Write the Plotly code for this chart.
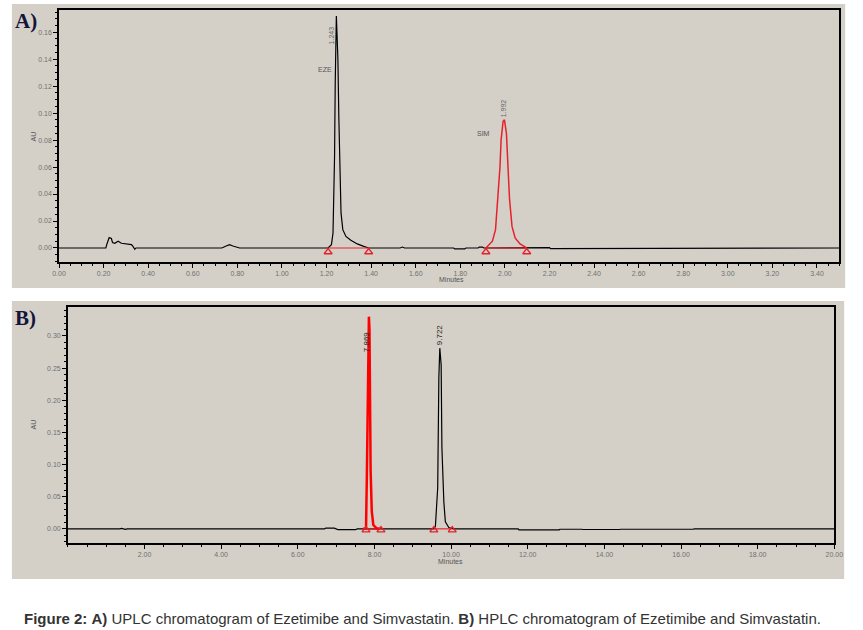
import plotly.graph_objects as go

W, H = 863, 630
BEIGE = "#d4d0c8"

# ---------------- Panel A (UPLC) ----------------
a_time = [0.00, 0.21, 0.215, 0.225, 0.235, 0.24, 0.25, 0.265, 0.28, 0.30, 0.31, 0.325, 0.33, 0.335, 0.34, 0.345,
          0.44, 0.45, 0.47, 0.48, 0.51, 0.52, 0.53, 0.73, 0.75, 0.765, 0.78, 0.80, 0.81,
          1.207, 1.222, 1.229, 1.233, 1.236, 1.239, 1.244, 1.248, 1.251, 1.255, 1.260, 1.265, 1.273, 1.287,
          1.309, 1.338, 1.367, 1.389, 1.53, 1.54, 1.55, 1.70, 1.71, 1.72, 1.77, 1.775, 1.82, 1.825, 1.88,
          1.885, 1.90, 1.905, 1.915,
          2.098, 2.20, 2.205, 2.80, 2.805, 3.50]
a_au = [0.000, 0.000, 0.003, 0.0077, 0.007, 0.004, 0.0035, 0.005, 0.0035, 0.003, 0.0025, 0.0025, 0.0015, 0.0005, -0.001, 0.000,
        0.000, 0.0005, 0.0004, 0.000, 0.000, 0.0005, 0.000, 0.000, 0.0015, 0.0025, 0.0015, 0.0005, 0.000,
        0.000, 0.0025, 0.011, 0.036, 0.068, 0.122, 0.172, 0.154, 0.140, 0.098, 0.060, 0.026, 0.0136, 0.0086,
        0.0057, 0.003, 0.0012, 0.000, 0.000, 0.0007, 0.000, 0.000, -0.0005, 0.000, 0.000, -0.0007, -0.0007, 0.000, 0.000,
        0.0007, 0.0007, 0.000, 0.000,
        0.0003, 0.0003, -0.0005, -0.0005, 0.000, 0.000]

a_red_time = [1.915, 1.944, 1.958, 1.969, 1.978, 1.983, 1.992, 1.998, 2.007, 2.014, 2.021, 2.032, 2.046, 2.068, 2.098]
a_red_au = [0.000, 0.005, 0.0136, 0.036, 0.060, 0.080, 0.094, 0.095, 0.085, 0.060, 0.036, 0.016, 0.0074, 0.003, 0.000]

a_marks_time = [1.207, 1.389, 1.915, 2.098]
a_x_ticks = [0.00, 0.20, 0.40, 0.60, 0.80, 1.00, 1.20, 1.40, 1.60, 1.80, 2.00, 2.20, 2.40, 2.60, 2.80, 3.00, 3.20, 3.40]
a_y_ticks = [0.00, 0.02, 0.04, 0.06, 0.08, 0.10, 0.12, 0.14, 0.16]
a_peak_rt = ["1.243", "1.992"]
a_peak_name = ["EZE", "SIM"]
a_peak_x = [1.244, 1.998]
a_peak_y = [0.172, 0.095]

# ---------------- Panel B (HPLC) ----------------
b_time = [0.0, 1.25, 1.30, 1.35, 1.40, 1.45, 1.50, 1.55, 1.60, 1.90, 1.95, 2.00, 6.70, 6.73, 6.95, 7.00, 7.05, 7.50, 7.55,
          7.78,
          8.14, 9.00, 9.04, 9.42, 9.45, 9.55, 9.59, 9.65, 9.68, 9.705, 9.74, 9.76, 9.81, 9.85, 9.94, 10.06,
          11.75, 11.77, 12.82, 12.84, 13.41, 13.43, 14.40, 14.42, 16.32, 16.34, 20.0]
b_au = [0.000, 0.000, -0.0008, 0.000, 0.0007, 0.000, -0.0008, 0.000, 0.000, 0.000, 0.0006, 0.000, 0.000, 0.0012, 0.0012, 0.000, -0.0013, -0.0013, 0.000,
        0.000,
        0.000, 0.000, -0.0008, -0.0008, 0.000, 0.000, 0.004, 0.064, 0.235, 0.281, 0.255, 0.126, 0.042, 0.011, 0.002, 0.000,
        0.000, -0.0015, -0.0015, -0.0006, -0.0006, -0.0010, -0.0010, -0.0006, -0.0006, 0.000, 0.000]

b_red_time = [7.70, 7.78, 7.80, 7.83, 7.855, 7.87, 7.885, 7.90, 7.93, 7.97, 8.05, 8.14]
b_red_au = [0.000, 0.001, 0.076, 0.250, 0.330, 0.310, 0.140, 0.090, 0.027, 0.006, 0.001, 0.000]

b_marks_time = [7.78, 8.17, 9.55, 10.03]
b_x_ticks = [2.00, 4.00, 6.00, 8.00, 10.00, 12.00, 14.00, 16.00, 18.00, 20.00]
b_y_ticks = [0.00, 0.05, 0.10, 0.15, 0.20, 0.25, 0.30]
b_peak_rt = ["7.869", "9.722"]
b_peak_x = [7.80, 9.69]

caption = ("<b>Figure 2:</b> <b>A)</b> UPLC chromatogram of Ezetimibe and Simvastatin. "
           "<b>B)</b> HPLC chromatogram of Ezetimibe and Simvastatin.")

# ---------------- geometry (pixels) ----------------
def px(xp):
    return xp / W

def py(yp):
    return 1 - yp / H

A_dom_x = [px(53), px(848)]
A_dom_y = [py(262), py(10)]
B_dom_x = [px(62), px(843)]
B_dom_y = [py(543), py(307)]

RED = "#e8202a"
fig = go.Figure()

# Panel A traces
fig.add_trace(go.Scatter(x=a_time, y=a_au, mode="lines", line=dict(color="black", width=1.2),
                         xaxis="x", yaxis="y", showlegend=False, hoverinfo="skip"))
fig.add_trace(go.Scatter(x=[a_marks_time[0], a_marks_time[1]], y=[0, 0], mode="lines",
                         line=dict(color=RED, width=1.2), xaxis="x", yaxis="y", showlegend=False))
fig.add_trace(go.Scatter(x=[a_marks_time[2], a_marks_time[3]], y=[0, 0], mode="lines",
                         line=dict(color=RED, width=1.2), xaxis="x", yaxis="y", showlegend=False))
fig.add_trace(go.Scatter(x=a_red_time, y=a_red_au, mode="lines", line=dict(color=RED, width=1.5),
                         xaxis="x", yaxis="y", showlegend=False))
fig.add_trace(go.Scatter(x=a_marks_time, y=[-0.003] * len(a_marks_time), mode="markers",
                         marker=dict(symbol="triangle-up-open", size=7, color=RED, line=dict(width=1.3)),
                         xaxis="x", yaxis="y", showlegend=False))

# Panel B traces
fig.add_trace(go.Scatter(x=b_time, y=b_au, mode="lines", line=dict(color="black", width=1.2),
                         xaxis="x2", yaxis="y2", showlegend=False))
fig.add_trace(go.Scatter(x=[b_marks_time[0], b_marks_time[1]], y=[0, 0], mode="lines",
                         line=dict(color=RED, width=1.2), xaxis="x2", yaxis="y2", showlegend=False))
fig.add_trace(go.Scatter(x=[b_marks_time[2], b_marks_time[3]], y=[0, 0], mode="lines",
                         line=dict(color=RED, width=1.2), xaxis="x2", yaxis="y2", showlegend=False))
fig.add_trace(go.Scatter(x=b_red_time, y=b_red_au, mode="lines", line=dict(color="#ff0000", width=2.5),
                         xaxis="x2", yaxis="y2", showlegend=False))
fig.add_trace(go.Scatter(x=b_marks_time, y=[-0.002] * len(b_marks_time), mode="markers",
                         marker=dict(symbol="triangle-up-open", size=7, color=RED, line=dict(width=1.3)),
                         xaxis="x2", yaxis="y2", showlegend=False))

tickfont = dict(family="Liberation Sans, Arial, sans-serif", size=7, color="#707070")
common_axis = dict(showline=True, linecolor="black", linewidth=1.5, mirror=True, showgrid=False,
                   zeroline=False, ticks="outside", ticklen=4, tickcolor="black", tickfont=tickfont)

fig.update_layout(
    width=W, height=H, paper_bgcolor="white", plot_bgcolor=BEIGE,
    margin=dict(l=0, r=0, t=0, b=0),
    xaxis=dict(domain=A_dom_x, anchor="y", range=[0, 3.50], tickvals=a_x_ticks,
               ticktext=[f"{v:.2f}" for v in a_x_ticks],
               minor=dict(ticks="outside", ticklen=2, dtick=0.05, tickcolor="black"), **common_axis),
    yaxis=dict(domain=A_dom_y, anchor="x", range=[-0.0104, 0.1765], tickvals=a_y_ticks,
               ticktext=[f"{v:.2f}" for v in a_y_ticks],
               minor=dict(ticks="outside", ticklen=2, dtick=0.005, tickcolor="black"), **common_axis),
    xaxis2=dict(domain=B_dom_x, anchor="y2", range=[0, 20], tickvals=b_x_ticks,
                ticktext=[f"{v:.2f}" for v in b_x_ticks],
                minor=dict(ticks="outside", ticklen=2, dtick=0.5, tickcolor="black"), **common_axis),
    yaxis2=dict(domain=B_dom_y, anchor="x2", range=[-0.022, 0.345], tickvals=b_y_ticks,
                ticktext=[f"{v:.2f}" for v in b_y_ticks],
                minor=dict(ticks="outside", ticklen=2, dtick=0.01, tickcolor="black"), **common_axis),
)

# panel background boxes
shapes = [
    dict(type="rect", xref="paper", yref="paper", x0=px(5), x1=px(854), y0=py(288), y1=py(4),
         fillcolor=BEIGE, line=dict(width=0), layer="below"),
    dict(type="rect", xref="paper", yref="paper", x0=px(5), x1=px(853), y0=py(579), y1=py(301),
         fillcolor=BEIGE, line=dict(width=0), layer="below"),
]
fig.update_layout(shapes=shapes)

ann = []
lblfont = dict(family="Liberation Sans, Arial, sans-serif", size=7, color="#555555")
# panel letters
for letter, yy in (("A)", 21), ("B)", 318)):
    ann.append(dict(text=f"<b>{letter}</b>", x=px(6), y=py(yy), xref="paper", yref="paper",
                    xanchor="left", yanchor="middle", showarrow=False,
                    font=dict(family="Liberation Serif, Times New Roman, serif", size=21, color="#14143a")))
# axis titles
for txt, xx, yy, ang in (("AU", 27, 136, -90), ("AU", 27, 424, -90),
                         ("Minutes", 453, 279, 0), ("Minutes", 452, 561, 0)):
    ann.append(dict(text=txt, x=px(xx), y=py(yy), xref="paper", yref="paper", textangle=ang,
                    xanchor="center", yanchor="middle", showarrow=False, font=lblfont))
# peak labels A
for rt, name, xv, yv, nx, ny, xs, ys in zip(a_peak_rt, a_peak_name, a_peak_x, a_peak_y,
                                            [1.195, 1.905], [0.132, 0.085], [-5, -1], [-30, 1]):
    ann.append(dict(text=rt, x=xv, y=yv, xref="x", yref="y", textangle=-90, xanchor="center",
                    yanchor="bottom", xshift=xs, yshift=ys, showarrow=False,
                    font=dict(family="Liberation Sans, Arial, sans-serif", size=7, color="#666666")))
    ann.append(dict(text=name, x=nx, y=ny, xref="x", yref="y", showarrow=False,
                    font=dict(family="Liberation Sans, Arial, sans-serif", size=7, color="#555555")))
# peak labels B
for rt, xv, yv in zip(b_peak_rt, b_peak_x, [0.272, 0.282]):
    ann.append(dict(text=rt, x=xv, y=yv, xref="x2", yref="y2", textangle=-90, xanchor="center",
                    yanchor="bottom", showarrow=False,
                    font=dict(family="Liberation Sans, Arial, sans-serif", size=8, color="#222222")))
# caption
ann.append(dict(text=caption, x=px(423), y=py(618), xref="paper", yref="paper", showarrow=False,
                xanchor="center", yanchor="middle",
                font=dict(family="Liberation Sans Narrow, Arial Narrow, sans-serif", size=15, color="#333333")))
fig.update_layout(annotations=ann)

fig.write_html("out.html", config={"displayModeBar": False},
               post_script="document.body.style.margin='0';document.body.style.overflow='hidden';")
